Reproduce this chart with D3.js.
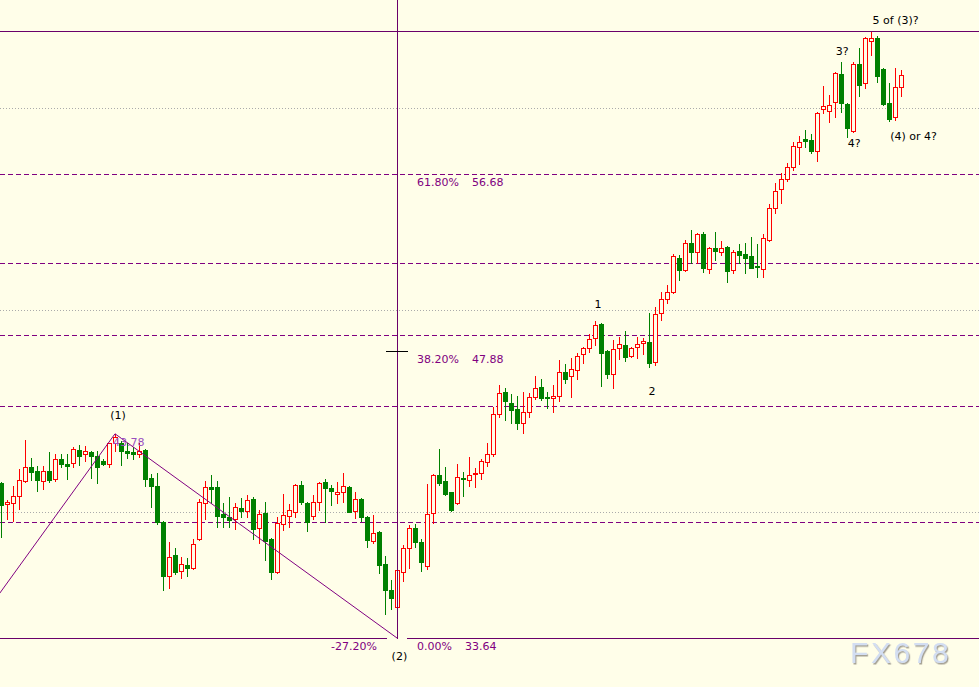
<!DOCTYPE html>
<html><head><meta charset="utf-8">
<script src="https://cdn.jsdelivr.net/npm/d3@7"></script>
<style>html,body{margin:0;padding:0;background:#fffee9;overflow:hidden}svg{display:block}</style>
</head><body><svg id="c" width="979" height="687"></svg>
<script>
// ---- candle data (index 0..150, one bar every slot) ----
const open=[41.34,40.29,40.34,40.69,41.44,42.13,41.93,41.44,41.93,41.54,
42.53,42.28,42.33,42.97,42.78,42.88,42.68,42.43,42.28,43.32,
43.32,42.92,42.88,42.78,42.97,41.59,41.19,39.40,36.72,37.76,
36.97,37.26,37.11,38.56,40.34,41.14,41.14,39.80,39.65,39.55,
40.10,39.95,40.54,39.10,39.85,38.56,36.92,39.30,39.70,39.90,
41.24,40.34,39.70,40.39,41.39,41.09,40.79,40.89,41.14,39.95,
40.54,39.65,38.46,38.90,37.31,36.02,35.18,36.92,38.11,39.10,
38.41,37.21,39.85,41.73,41.44,40.89,40.34,41.59,41.49,41.78,
41.83,42.38,42.78,44.76,45.86,45.31,45.01,44.32,44.86,45.61,
46.10,45.61,45.56,45.66,46.85,46.65,46.95,47.74,48.04,48.54,
49.23,47.89,46.75,48.04,48.19,47.64,48.09,48.29,48.34,47.35,
49.78,50.47,50.82,52.51,51.90,53.25,52.81,53.70,51.96,53.01,
52.81,53.06,51.90,52.86,52.71,52.61,52.11,51.96,53.40,54.99,
55.94,56.43,57.03,58.02,58.42,58.37,57.82,59.91,59.81,60.26,
61.65,60.16,58.82,62.14,61.20,63.28,63.43,61.89,60.21,59.51,
61.00];
const high=[41.39,40.49,41.19,42.03,43.47,42.58,42.18,42.18,42.88,42.78,
42.78,42.78,43.12,43.22,43.17,42.92,42.92,42.53,43.32,43.78,
43.42,43.32,43.12,43.32,43.02,41.78,41.83,39.45,38.41,38.11,
37.66,37.61,38.56,40.54,41.44,41.73,41.44,40.34,40.64,40.34,
40.59,40.74,40.64,40.00,40.39,38.61,39.65,40.79,40.29,41.29,
41.44,40.39,40.74,41.39,41.54,41.24,41.39,41.83,41.19,40.89,
40.59,39.70,39.75,38.95,37.71,36.52,37.11,38.26,39.25,39.30,
38.56,41.29,41.78,43.02,42.13,40.89,42.28,41.88,42.63,42.08,
42.53,43.32,45.11,46.20,46.05,45.76,45.66,45.86,45.81,46.65,
46.50,45.86,46.20,47.44,47.25,47.54,47.79,48.09,48.74,49.38,
49.28,47.94,48.44,48.59,48.88,48.09,48.59,48.54,49.78,50.08,
50.82,51.17,52.71,52.66,53.40,53.90,53.75,53.80,53.06,53.80,
53.35,53.11,52.91,53.20,53.25,53.55,53.20,53.70,55.19,56.23,
56.73,57.23,58.27,58.57,58.86,58.67,59.76,61.06,60.61,61.74,
62.24,60.21,62.24,62.94,63.48,63.73,63.53,61.94,61.20,61.94,
61.84];
const low=[38.66,39.55,39.45,40.05,41.39,41.49,40.94,41.04,41.39,41.44,
42.13,41.54,42.13,42.23,42.43,41.59,41.34,42.23,42.13,42.92,
42.23,42.58,42.53,42.63,41.19,40.14,39.30,36.02,36.12,36.82,
36.62,36.72,37.06,38.51,39.55,40.34,39.15,39.15,39.15,39.05,
39.65,39.65,38.56,38.36,37.51,36.57,36.87,39.00,39.15,39.65,
40.29,38.95,39.55,40.00,39.40,40.24,40.34,40.39,39.90,39.60,
39.45,38.16,38.36,36.87,34.83,35.08,35.08,36.47,37.11,38.16,
36.97,37.06,39.35,41.24,40.74,39.95,40.29,40.69,41.19,41.14,
41.54,42.18,42.68,44.61,44.46,44.32,44.02,43.82,44.61,45.51,
45.46,45.06,44.86,45.41,46.30,45.61,46.50,47.30,47.84,48.19,
46.15,46.55,46.05,47.49,47.39,47.59,47.54,47.74,47.10,47.20,
49.43,50.27,50.77,51.42,51.85,52.26,52.26,51.81,51.76,52.41,
52.66,51.32,51.76,52.26,51.76,52.01,51.57,51.57,53.35,54.74,
55.24,56.33,56.88,57.18,58.02,57.72,57.33,59.71,59.26,59.51,
59.76,58.52,58.77,60.55,60.95,62.59,61.25,60.11,59.31,59.36,
60.55];
const close=[40.24,40.39,40.69,41.49,42.13,41.88,41.49,41.93,41.49,42.53,
42.28,42.18,43.02,42.68,42.92,42.68,42.13,42.28,43.32,43.62,
42.92,42.83,42.78,42.92,41.54,41.19,39.40,36.72,37.66,36.92,
37.31,37.11,38.31,40.39,41.14,41.04,39.70,39.65,39.50,40.14,
39.95,40.49,39.05,39.80,38.46,36.92,39.35,39.75,40.00,41.24,
40.39,39.40,40.39,41.34,41.09,40.94,40.89,41.19,39.90,40.54,
39.65,38.51,38.85,37.26,36.02,35.63,37.02,38.11,39.10,38.41,
37.41,39.80,41.73,41.34,40.79,40.00,41.64,41.54,41.73,41.83,
42.43,42.78,44.76,45.81,45.41,44.96,44.32,44.86,45.61,46.05,
45.56,45.56,45.66,46.85,46.50,46.99,47.64,48.04,48.49,49.18,
47.79,46.75,47.99,48.24,47.59,48.04,48.24,48.39,47.30,49.73,
50.47,50.82,52.61,51.90,53.25,52.81,53.70,52.01,53.01,52.86,
53.01,51.86,52.81,52.66,52.51,52.01,52.06,53.50,54.99,55.84,
56.43,57.03,58.07,58.27,58.32,57.82,59.71,60.06,60.11,61.70,
60.21,58.96,62.14,61.10,63.43,63.43,61.55,60.16,59.41,61.00,
61.60];

// ---- horizontal levels ----
const dashedLevels=[56.68,52.26,48.69,45.16,39.40];
const dottedLevels=[59.96,49.93,39.90];
const topLevel=63.78;
const baseLevel=33.64;
const tickLevel=47.88;

// ---- fibonacci labels ----
const fibPct=["61.80%","38.20%","0.00%"];
const fibVal=[56.68,47.88,33.64];
const extLabel="-27.20%";

// ---- zigzag (wave) line ----
const zigIdx=[-5,19,66];
const zigPrice=[33.89,43.78,33.64];
const peakLabel="43.78";
const pivotIdx=66;

// ---- wave annotations ----
const waveText=["(1)","1","2","3?","4?","(4) or 4?","5 of (3)?","(2)"];
const waveIdx=[19.5,99.5,108.5,140.2,142.2,152.1,149.1,66.4];
const wavePrice=[44.71,50.23,45.91,62.79,58.22,58.57,64.33,32.75];

const watermark="FX678";

// ---- drawing ----
const W=979,H=687;
const BG="#fffee9", PURPLE="#800080", LINE="#6a006a";
const svg=d3.select("#c");
const x=d3.scaleLinear().domain([0,150]).range([1,901]);
const y=d3.scaleLinear().domain([33.64,56.68]).range([638,174]);
const px=v=>Math.round(v)+0.5;
const FONT="'DejaVu Sans', Verdana, sans-serif";

const defs=svg.append("defs");
const flt=defs.append("filter").attr("id","wm").attr("x","-10%").attr("y","-20%").attr("width","130%").attr("height","150%");
flt.append("feDropShadow").attr("dx",1.2).attr("dy",1.5).attr("stdDeviation",0.7)
  .attr("flood-color","#8f8a80").attr("flood-opacity",0.8);

svg.append("rect").attr("width",W).attr("height",H).attr("fill",BG);

svg.append("g").attr("shape-rendering","crispEdges").selectAll("line").data(dottedLevels).join("line")
  .attr("x1",0).attr("x2",W)
  .attr("y1",d=>px(y(d))).attr("y2",d=>px(y(d)))
  .attr("stroke","#ababab").attr("stroke-dasharray","1,2");

svg.append("g").attr("shape-rendering","crispEdges").selectAll("line").data(dashedLevels).join("line")
  .attr("x1",0).attr("x2",W)
  .attr("y1",d=>px(y(d))).attr("y2",d=>px(y(d)))
  .attr("stroke",PURPLE).attr("stroke-width",1).attr("stroke-dasharray","5,3");

// candles
const bars=d3.range(open.length).map(i=>({i,o:open[i],h:high[i],l:low[i],c:close[i]}));
const gC=svg.append("g").attr("shape-rendering","crispEdges");
bars.forEach(d=>{
  const cx=Math.round(x(d.i));
  const up=d.c>d.o;
  const col=up?"#ff0000":"#008000";
  const yt=Math.round(y(Math.max(d.o,d.c))), yb=Math.round(y(Math.min(d.o,d.c)));
  gC.append("line").attr("x1",cx+0.5).attr("x2",cx+0.5)
    .attr("y1",Math.round(y(d.h))).attr("y2",Math.round(y(d.l))+1)
    .attr("stroke",col).attr("stroke-width",1);
  if(up){
    gC.append("rect").attr("x",cx-1.5).attr("y",yt+0.5).attr("width",4)
      .attr("height",Math.max(1,yb-yt)).attr("fill",BG).attr("stroke",col).attr("stroke-width",1);
  } else {
    gC.append("rect").attr("x",cx-2).attr("y",yt).attr("width",5)
      .attr("height",Math.max(1,yb-yt+1)).attr("fill",col);
  }
});

// top & base lines
const gL=svg.append("g").attr("shape-rendering","crispEdges");
gL.append("line").attr("x1",0).attr("x2",W).attr("y1",px(y(topLevel))).attr("y2",px(y(topLevel)))
  .attr("stroke",LINE);
const by=px(y(baseLevel));
gL.append("line").attr("x1",0).attr("x2",x(pivotIdx)-10).attr("y1",by).attr("y2",by).attr("stroke",LINE);
gL.append("line").attr("x1",x(pivotIdx)+10).attr("x2",W).attr("y1",by).attr("y2",by).attr("stroke",LINE);

// zigzag
const zz=zigIdx.map((v,k)=>[x(v),y(zigPrice[k])]);
svg.append("path").attr("d",d3.line()(zz)).attr("fill","none").attr("stroke",PURPLE).attr("stroke-width",1);

// vertical pivot line
gL.append("line").attr("x1",Math.round(x(pivotIdx))+0.5).attr("x2",Math.round(x(pivotIdx))+0.5)
  .attr("y1",0).attr("y2",by).attr("stroke",LINE);
// short tick at 38.2%
gL.append("line").attr("x1",x(pivotIdx)-11).attr("x2",x(pivotIdx)+11)
  .attr("y1",px(y(tickLevel))).attr("y2",px(y(tickLevel))).attr("stroke","#000");

// peak value label
svg.append("text").attr("x",x(19)-2).attr("y",y(43.78)+12)
  .attr("font-family",FONT).attr("font-size",11).attr("fill","#9a4fc0").text(peakLabel);

// fib labels
fibPct.forEach((t,k)=>{
  const ty=y(fibVal[k])+12;
  const a=svg.append("text").attr("x",417).attr("y",ty).attr("font-family",FONT)
    .attr("font-size",11).attr("fill",PURPLE).text(t);
  const w=a.node().getComputedTextLength();
  svg.append("text").attr("x",417+w+13).attr("y",ty).attr("font-family",FONT)
    .attr("font-size",11).attr("fill",PURPLE).text(fibVal[k].toFixed(2));
});
svg.append("text").attr("x",377).attr("y",y(baseLevel)+12).attr("text-anchor","end")
  .attr("font-family",FONT).attr("font-size",11).attr("fill",PURPLE).text(extLabel);

// wave labels
svg.append("g").selectAll("text").data(waveText).join("text")
  .attr("x",(d,k)=>x(waveIdx[k])).attr("y",(d,k)=>y(wavePrice[k])+4)
  .attr("text-anchor","middle").attr("font-family",FONT).attr("font-size",11)
  .attr("fill","#000").text(d=>d);

// watermark
svg.append("text").attr("x",850).attr("y",663).attr("font-family","'Liberation Sans',Arial,sans-serif")
  .attr("font-size",30).attr("letter-spacing",2.6).attr("fill","#d3def2").attr("filter","url(#wm)").text(watermark);
</script></body></html>
